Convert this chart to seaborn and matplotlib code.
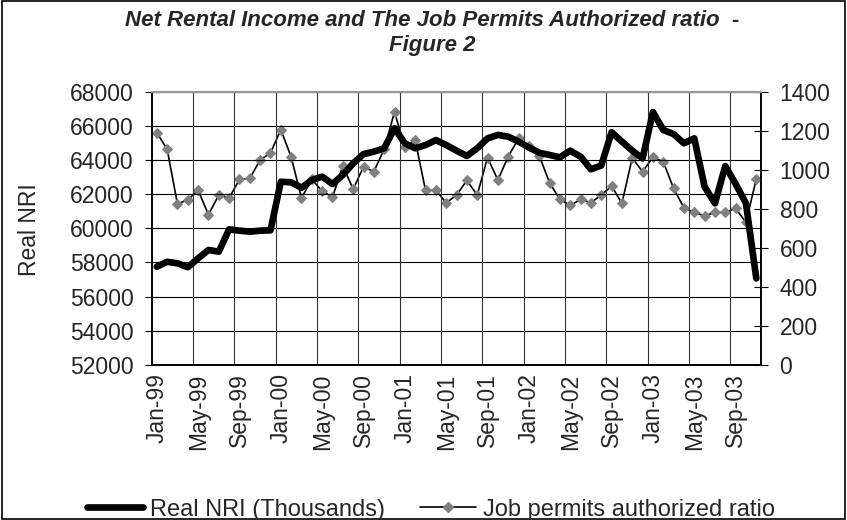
import numpy as np
import pandas as pd
import seaborn as sns
import matplotlib.pyplot as plt
from matplotlib.lines import Line2D
from matplotlib.patches import Rectangle

# Monthly series, Jan-99 .. Nov-03
months = pd.date_range("1999-01-01", "2003-11-01", freq="MS")

# Real NRI (thousands), left axis
nri = [57750, 58040, 57950, 57720, 58240, 58730, 58630, 59940, 59860, 59800,
       59860, 59880, 62720, 62690, 62370, 62820, 63020, 62590, 63120, 63800,
       64340, 64480, 64680, 65850, 64970, 64680, 64870, 65160, 64870, 64540,
       64230, 64680, 65260, 65460, 65360, 65070, 64730, 64420, 64290, 64150,
       64540, 64190, 63450, 63670, 65620, 65070, 64540, 64090, 66800, 65750,
       65510, 64970, 65260, 62430, 61460, 63640, 62600, 61460, 57070]

# Job permits authorized ratio, right axis
permits = [1190, 1105, 825, 845, 895, 770, 870, 855, 950, 955,
           1050, 1085, 1205, 1065, 855, 950, 890, 860, 1020, 900,
           1015, 990, 1105, 1295, 1115, 1150, 895, 895, 830, 870,
           945, 870, 1062, 947, 1067, 1160, 1120, 1072, 933, 848,
           817, 848, 831, 870, 916, 828, 1060, 990, 1063, 1041,
           904, 805, 781, 764, 781, 781, 802, 730, 952]

tick_labels = ["Jan-99", "May-99", "Sep-99", "Jan-00", "May-00", "Sep-00",
               "Jan-01", "May-01", "Sep-01", "Jan-02", "May-02", "Sep-02",
               "Jan-03", "May-03", "Sep-03"]

df = pd.DataFrame({"idx": np.arange(len(months)), "nri": nri, "permits": permits})

FS = 16.5

sns.set_style("white")
plt.rcParams["font.family"] = ["Liberation Sans", "DejaVu Sans"]
plt.rcParams["font.size"] = FS

fig = plt.figure(figsize=(8.47, 5.2), dpi=100)
ax = fig.add_axes([0.179, 0.298, 0.72, 0.526])
ax2 = ax.twinx()

# gridlines
for v in range(52000, 68001, 2000):
    ax.axhline(v, color="black", lw=0.8, zorder=0)
for b in np.arange(3.5, len(months) - 1, 4):
    ax.axvline(b, color="#333333", lw=0.8, zorder=0)

sns.lineplot(data=df, x="idx", y="nri", ax=ax, color="black", lw=4.8,
             solid_capstyle="round", solid_joinstyle="round", zorder=3)
sns.lineplot(data=df, x="idx", y="permits", ax=ax2, color="black", lw=1.2,
             marker="D", markersize=5.5, markerfacecolor="#808080",
             markeredgecolor="#808080", zorder=4)

ax.set_zorder(ax2.get_zorder() + 1)
ax.patch.set_visible(False)
ax2.set_zorder(0)

ax.set_xlim(-0.5, len(months) - 0.5)
ax.set_ylim(52000, 68000)
ax2.set_ylim(0, 1400)
ax.set_yticks(range(52000, 68001, 2000))
ax2.set_yticks(range(0, 1401, 200))

# x ticks at category boundaries, labels at category centres
ax.set_xticks(np.arange(-0.5, len(months), 4))
ax.set_xticklabels([])
ax.set_xticks(np.arange(0, len(months), 4), minor=True)
ax.set_xticklabels(tick_labels, minor=True, rotation=90)
ax.tick_params(axis="x", which="major", direction="out", length=6, color="black")
ax.tick_params(axis="x", which="minor", length=0, pad=6, labelsize=FS)
ax.tick_params(axis="y", direction="inout", length=10, color="black", labelsize=FS, pad=8)
ax2.tick_params(axis="y", direction="inout", length=10, color="black", labelsize=FS, pad=8)

ax.set_xlabel("")
ax.set_ylabel("")
ax2.set_ylabel("")

for a in (ax, ax2):
    for s in ("left", "right", "bottom"):
        a.spines[s].set_color("black")
        a.spines[s].set_linewidth(1.2)
    a.spines["top"].set_color("#999999")
    a.spines["top"].set_linewidth(1.5)

fig.text(0.035, 0.558, "Real NRI", rotation=90, ha="center", va="center", fontsize=FS)
fig.text(0.51, 0.98, "Net Rental Income and The Job Permits Authorized ratio  -\nFigure 2",
         ha="center", va="top", fontsize=16, fontweight="bold", style="italic",
         linespacing=1.25)

handles = [
    Line2D([], [], color="black", lw=4.8, solid_capstyle="round"),
    Line2D([], [], color="black", lw=1.2, marker="D", markersize=5.5,
           markerfacecolor="#808080", markeredgecolor="#808080"),
]
fig.legend(handles, ["Real NRI (Thousands)", "Job permits authorized ratio"],
           loc="center", bbox_to_anchor=(0.509, 0.02), ncol=2, frameon=False,
           fontsize=17, handlelength=2.35, handletextpad=0.3, columnspacing=1.5,
           borderpad=0)

fig.patches.append(Rectangle((0.002, 0.002), 0.996, 0.996, transform=fig.transFigure,
                             fill=False, edgecolor="black", lw=1.2))

fig.savefig("out.png", dpi=100)
